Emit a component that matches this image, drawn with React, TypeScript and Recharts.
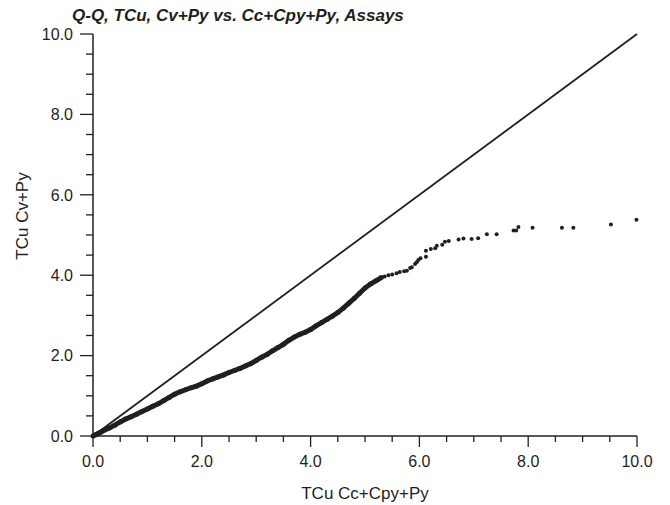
import React from "react";
import {
  ScatterChart,
  Scatter,
  XAxis,
  YAxis,
  ReferenceLine,
} from "recharts";

// dense part of the Q-Q curve (reads as a thick band in the original)
const denseX = [
  0, 0.05, 0.1, 0.15, 0.2, 0.3, 0.4, 0.5, 0.6, 0.7, 0.8, 0.9, 1.0, 1.1, 1.2,
  1.3, 1.4, 1.5, 1.6, 1.7, 1.8, 1.9, 2.0, 2.1, 2.2, 2.3, 2.4, 2.5, 2.6, 2.7,
  2.8, 2.9, 3.0, 3.1, 3.2, 3.3, 3.4, 3.5, 3.6, 3.7, 3.8, 3.9, 4.0, 4.1, 4.2,
  4.3, 4.4, 4.5, 4.6, 4.7, 4.8, 4.9, 5.0, 5.1, 5.2, 5.3,
];
const denseY = [
  0, 0.03, 0.07, 0.1, 0.14, 0.2, 0.27, 0.35, 0.42, 0.48, 0.54, 0.61, 0.67,
  0.74, 0.8, 0.88, 0.96, 1.04, 1.1, 1.15, 1.2, 1.24, 1.3, 1.37, 1.42, 1.47,
  1.52, 1.58, 1.63, 1.68, 1.74, 1.8, 1.88, 1.96, 2.03, 2.12, 2.2, 2.28, 2.38,
  2.46, 2.53, 2.58, 2.65, 2.74, 2.82, 2.9, 2.98, 3.07, 3.18, 3.3, 3.42, 3.55,
  3.68, 3.78, 3.86, 3.94,
];

// upper tail, individual points
const tailX = [
  5.36, 5.43, 5.5, 5.58, 5.64, 5.72, 5.77, 5.83, 5.86, 5.92, 5.95, 5.98, 6.02,
  6.12, 6.12, 6.21, 6.29, 6.32, 6.42, 6.47, 6.54, 6.72, 6.81, 6.96, 7.08, 7.24,
  7.42, 7.73, 7.78, 7.82, 8.08, 8.62, 8.83, 9.52, 9.99,
];
const tailY = [
  3.97, 4.0, 4.02, 4.05, 4.08, 4.1, 4.11, 4.18, 4.2, 4.28, 4.32, 4.38, 4.42,
  4.46, 4.61, 4.65, 4.67, 4.73, 4.76, 4.83, 4.85, 4.89, 4.91, 4.9, 4.92, 5.02,
  5.02, 5.11, 5.11, 5.2, 5.18, 5.18, 5.18, 5.26, 5.38,
];

const axisTicks = [
  0, 0.5, 1, 1.5, 2, 2.5, 3, 3.5, 4, 4.5, 5, 5.5, 6, 6.5, 7, 7.5, 8, 8.5, 9,
  9.5, 10,
];
const majorTicks = [0, 2, 4, 6, 8, 10];

const title = "Q-Q, TCu, Cv+Py vs. Cc+Cpy+Py, Assays";
const xTitle = "TCu Cc+Cpy+Py";
const yTitle = "TCu Cv+Py";

const dense = denseX.map((x, i) => ({ x, y: denseY[i] }));
const tail = tailX.map((x, i) => ({ x, y: tailY[i] }));

const ink = "#231f20";
const font = "'Liberation Sans', Arial, sans-serif";

const isMajor = (v: number) => majorTicks.includes(v);

const XTick = (props: any) => {
  const { x, y, payload } = props;
  const major = isMajor(payload.value);
  return (
    <g>
      <line x1={x} x2={x} y1={y} y2={y + (major ? 11 : 6)} stroke={ink} strokeWidth={1.3} />
      {major && (
        <text x={x} y={y + 31} textAnchor="middle" fontSize={16} fill={ink} fontFamily={font}>
          {payload.value.toFixed(1)}
        </text>
      )}
    </g>
  );
};

const YTick = (props: any) => {
  const { x, y, payload } = props;
  const major = isMajor(payload.value);
  return (
    <g>
      <line x1={x} x2={x - (major ? 13 : 7)} y1={y} y2={y} stroke={ink} strokeWidth={1.3} />
      {major && (
        <text x={x - 20} y={y} dy="0.36em" textAnchor="end" fontSize={16} fill={ink} fontFamily={font}>
          {payload.value.toFixed(1)}
        </text>
      )}
    </g>
  );
};

// y title sits a bit above the plot's middle in the original
const YTitle = () => (
  <text
    x={22}
    y={216}
    dy="0.35em"
    transform="rotate(-90 22 216)"
    textAnchor="middle"
    fontSize={17}
    fill={ink}
    fontFamily={font}
  >
    {yTitle}
  </text>
);

const Dot = (props: any) => <circle cx={props.cx} cy={props.cy} r={2} fill={ink} />;
const BandDot = (props: any) => <circle cx={props.cx} cy={props.cy} r={2.5} fill={ink} />;

export default function App() {
  return (
    <div style={{ position: "absolute", left: 0, top: 0, width: 670, height: 505, background: "#fff" }}>
      <div
        style={{
          position: "absolute",
          left: 72,
          top: 7,
          fontFamily: font,
          fontSize: 17,
          lineHeight: "17px",
          fontWeight: "bold",
          fontStyle: "italic",
          color: ink,
          whiteSpace: "nowrap",
        }}
      >
        {title}
      </div>
      <ScatterChart width={670} height={505} margin={{ top: 34, right: 33, bottom: 0, left: 0 }}>
        <XAxis
          type="number"
          dataKey="x"
          domain={[0, 10]}
          ticks={axisTicks}
          interval={0}
          height={69}
          tickSize={0}
          tickMargin={0}
          tickLine={false}
          tick={<XTick />}
          axisLine={{ stroke: ink, strokeWidth: 1.5 }}
          label={{ value: xTitle, position: "insideBottom", offset: 6, fontSize: 17, fill: ink, fontFamily: font }}
        />
        <YAxis
          type="number"
          dataKey="y"
          domain={[0, 10]}
          ticks={axisTicks}
          interval={0}
          width={93}
          tickSize={0}
          tickMargin={0}
          tickLine={false}
          tick={<YTick />}
          axisLine={{ stroke: ink, strokeWidth: 1.5 }}
          label={{ value: yTitle, content: <YTitle /> }}
        />
        <ReferenceLine
          segment={[
            { x: 0, y: 0 },
            { x: 10, y: 10 },
          ]}
          stroke={ink}
          strokeWidth={1.8}
        />
        <Scatter
          data={dense}
          line={{ stroke: ink, strokeWidth: 5 }}
          lineType="joint"
          shape={<BandDot />}
          isAnimationActive={false}
        />
        <Scatter data={tail} shape={<Dot />} isAnimationActive={false} />
      </ScatterChart>
    </div>
  );
}
